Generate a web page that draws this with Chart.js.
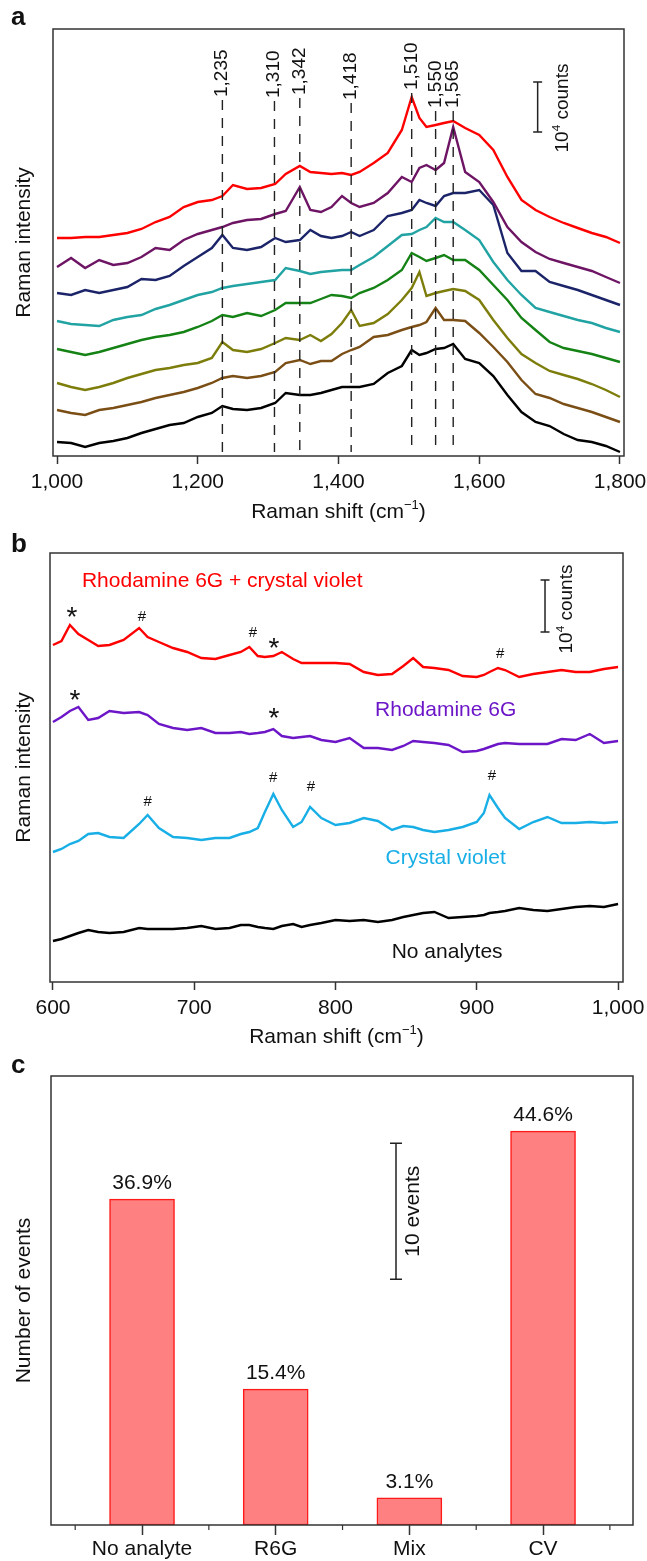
<!DOCTYPE html>
<html>
<head>
<meta charset="utf-8">
<title>Raman spectra</title>
<script src="https://cdn.jsdelivr.net/npm/chart.js@4.4.0/dist/chart.umd.min.js"></script>
<style>
  html, body { margin: 0; padding: 0; background: #fff; }
  .panel { position: absolute; left: 0; width: 647px; }
</style>
</head>
<body>
<div class="panel" style="top:0px;height:530px"><canvas id="chartA"></canvas></div>
<div class="panel" style="top:530px;height:525px"><canvas id="chartB"></canvas></div>
<div class="panel" style="top:1040px;height:521px"><canvas id="chartC"></canvas></div>
<script>
// ---- panel a : spectra (arbitrary intensity, offset traces) ----
var shiftA = [1000,1020,1040,1060,1080,1100,1120,1140,1160,1180,1200,1220,
  1235,1250,1270,1290,1310,1325,1345,1360,1375,1390,1405,1418,1430,
  1450,1470,1490,1504,1515,1525,1538,1550,1563,
  1580,1600,1620,1640,1660,1680,1700,1720,1740,1760,1780,1800];
var aRed = [218,218,219,219,221,223,227,234,239,249,254,256, 260,271,267,268,272,282, 290,284,283,282,283,281,284, 293,303,326,359,338,329,331,333,335, 328,321,306,279,256,246,239,233,228,223,219,213];
var aPurple = [189,198,188,196,191,193,199,208,206,216,222,226, 229,233,236,237,242,245, 269,246,244,249,260,253,249, 253,263,279,274,288,291,286,293,329, 284,274,254,229,214,204,197,193,189,185,179,173];
var aNavy = [163,161,166,163,166,169,177,176,180,190,199,208, 221,208,206,209,218,214, 216,226,220,218,220,224,220, 226,240,243,246,256,253,250,260,263, 263,266,251,203,185,185,174,170,166,161,156,151];
var aTeal = [135,132,131,130,136,139,141,147,151,156,161,164, 168,170,172,174,176,188, 185,182,184,185,186,186,191, 199,210,221,222,226,229,238,234,234, 226,216,194,176,161,148,144,140,136,133,128,124];
var aGreen = [107,104,101,104,108,112,116,119,121,124,129,135, 141,139,143,140,146,153, 153,153,157,161,160,158,163, 168,176,186,203,199,195,198,201,196, 196,186,171,156,138,126,114,108,105,102,98,94];
var aOlive = [73,69,66,69,73,78,82,86,88,91,93,98, 114,106,104,107,113,118, 116,121,115,122,133,146,130, 133,142,156,168,184,160,163,165,167, 165,156,136,118,102,93,85,81,77,72,66,59];
var aBrown = [46,43,41,46,48,51,54,58,61,64,68,73, 78,80,78,80,84,93, 96,92,95,95,102,106,109, 119,121,126,129,131,134,148,136,136, 135,123,109,94,76,62,58,52,48,44,39,34];
var aBlack = [14,13,9,13,15,18,23,27,31,33,39,43, 50,47,46,48,53,63, 61,61,63,66,69,69,69, 72,83,90,106,101,103,107,108,112, 97,93,80,61,44,34,30,22,16,14,10,4];
var ticksA = [1000,1200,1400,1600,1800];
var peakPosA = [1235,1309,1345,1418,1504,1538,1563];
var peakTextA = ['1,235','1,310','1,342','1,418','1,510','1,550','1,565'];

// ---- panel b : analyte spectra ----
var shiftB = [600,606,612,618,625,632,640,650,661,667,
  675,685,695,705,715,725,733,739,745,
  750,756,762,770,776,782,790,
  800,810,820,830,840,848,855,862,870,880,890,900,
  905,909,915,920, 930,940,950,960,970,980,990,1000];
var bMix = [337,341,357,348,342,336,337,342,354,345, 340,334,330,324,323,327,330,335,326, 325,326,330,323,319,319,319, 319,318,310,307,308,316,324,315,314,312,306,305, 307,310,314,312, 305,308,310,312,310,310,313,315];
var bR6G = [260,265,271,275,262,264,271,269,270,267, 258,254,252,254,249,249,250,248,249, 250,253,246,244,245,246,242, 240,244,234,234,232,236,241,240,239,237,230,231, 233,235,238,239, 238,238,238,243,242,248,239,241];
var bCV = [130,133,138,141,148,149,145,144,158,167, 154,145,144,142,144,144,148,150,154, 170,188,172,155,160,175,164, 157,159,164,161,152,156,155,152,150,152,155,160, 169,187,174,164, 153,160,165,159,159,160,159,160];
var bBlank = [41,43,46,49,52,50,49,50,54,53, 53,53,54,56,53,54,57,57,55, 54,53,56,58,55,57,59, 62,61,62,60,62,65,67,69,70,64,65,66, 67,69,70,71, 74,72,71,73,75,76,75,78];
var ticksB = [600,700,800,900,1000];

// ---- panel c : event counts ----
var catsC = ['No analyte','R6G','Mix','CV'];
var countsC = [24,10,2,29];
var pctC = ['36.9%','15.4%','3.1%','44.6%'];

var FONT = "'Liberation Sans', Arial, Helvetica, sans-serif";
Chart.defaults.font.family = FONT;
Chart.defaults.font.size = 21;
Chart.defaults.color = '#111';

// text centred on its ink at (x, yc)
function textAt(ctx, t, x, yc, size, color, align, weight) {
  ctx.font = (weight || 'normal') + ' ' + size + 'px ' + FONT;
  ctx.fillStyle = color || '#111';
  ctx.textAlign = align || 'center';
  ctx.textBaseline = 'alphabetic';
  var m = ctx.measureText(t);
  ctx.fillText(t, x, yc + (m.actualBoundingBoxAscent - m.actualBoundingBoxDescent) / 2);
}

// text made of normal / superscript pieces, centred on x
function drawParts(ctx, parts, x, yc, size, color) {
  var w = 0;
  ctx.fillStyle = color || '#111';
  ctx.textAlign = 'left';
  ctx.textBaseline = 'alphabetic';
  parts.forEach(function(p) {
    ctx.font = (p[1] ? size * 0.62 : size) + 'px ' + FONT;
    w += ctx.measureText(p[0]).width;
  });
  var cx = x - w / 2, base = yc + size * 0.36;
  parts.forEach(function(p) {
    ctx.font = (p[1] ? size * 0.62 : size) + 'px ' + FONT;
    ctx.fillText(p[0], cx, p[1] ? base - size * 0.42 : base);
    cx += ctx.measureText(p[0]).width;
  });
}

function scaleBar(ctx, px, y0, y1, cap) {
  ctx.strokeStyle = '#222';
  ctx.lineWidth = 1.5;
  ctx.setLineDash([]);
  ctx.beginPath();
  ctx.moveTo(px, y0); ctx.lineTo(px, y1);
  ctx.moveTo(px - cap, y0); ctx.lineTo(px + cap, y0);
  ctx.moveTo(px - cap, y1); ctx.lineTo(px + cap, y1);
  ctx.stroke();
}

function rotatedParts(ctx, parts, x, yc, size) {
  ctx.save();
  ctx.translate(x, yc);
  ctx.rotate(-Math.PI / 2);
  drawParts(ctx, parts, 0, 0, size);
  ctx.restore();
}

// frame round the plot area + panel letter
function framePlugin(letter, baseline) {
  return {
    id: 'frame' + letter,
    afterDraw: function(chart) {
      var a = chart.chartArea, ctx = chart.ctx;
      ctx.save();
      ctx.strokeStyle = '#333';
      ctx.lineWidth = 1.5;
      ctx.strokeRect(a.left, a.top, a.right - a.left, a.bottom - a.top);
      ctx.font = 'bold 26px ' + FONT;
      ctx.fillStyle = '#111';
      ctx.textAlign = 'left';
      ctx.textBaseline = 'alphabetic';
      ctx.fillText(letter, 11, baseline);
      ctx.restore();
    }
  };
}

function fixedX(height, ticks) {
  return {
    afterBuildTicks: function(s) { s.ticks = ticks.map(function(v) { return {value: v}; }); },
    afterFit: function(s) { s.height = height; s.paddingLeft = 0; s.paddingRight = 0; }
  };
}

var annotA = {
  id: 'annotA',
  afterDatasetsDraw: function(chart) {
    var ctx = chart.ctx, x = chart.scales.x, y = chart.scales.y;
    var labelEnd = [359,358,361,356,366,348,348];
    ctx.save();
    peakPosA.forEach(function(p, i) {
      var px = x.getPixelForValue(p);
      var top = y.getPixelForValue(labelEnd[i]);
      ctx.strokeStyle = '#222';
      ctx.lineWidth = 1.4;
      ctx.setLineDash([10, 8]);
      ctx.beginPath();
      ctx.moveTo(px, top + 3);
      ctx.lineTo(px, y.getPixelForValue(4));
      ctx.stroke();
      ctx.save();
      ctx.translate(px, top);
      ctx.rotate(-Math.PI / 2);
      textAt(ctx, peakTextA[i], 0, 0, 19, '#111', 'left');
      ctx.restore();
    });
    // 10^4 counts bar
    scaleBar(ctx, x.getPixelForValue(1683), y.getPixelForValue(324), y.getPixelForValue(374), 4.5);
    rotatedParts(ctx, [['10', false], ['4', true], [' counts', false]], x.getPixelForValue(1717), y.getPixelForValue(348), 19);
    drawParts(ctx, [['Raman shift (cm', false], ['\u22121', true], [')', false]], (chart.chartArea.left + chart.chartArea.right) / 2, 510, 21);
    ctx.restore();
  }
};

var annotB = {
  id: 'annotB',
  afterDatasetsDraw: function(chart) {
    var ctx = chart.ctx, x = chart.scales.x, y = chart.scales.y;
    var marks = [['*', 613.5, 370], ['#', 663, 366], ['#', 741.6, 350], ['*', 756.5, 339], ['#', 916.5, 329],
      ['*', 615.6, 287], ['*', 756.5, 269],
      ['#', 667, 181], ['#', 755.8, 205], ['#', 782.6, 196], ['#', 910.8, 207]];
    var names = [['Rhodamine 6G + crystal violet', 620.5, 401, '#ff0000', 'left'],
      ['Rhodamine 6G', 878, 274, '#6c16c8', 'center'],
      ['Crystal violet', 878, 124, '#18aee6', 'center'],
      ['No analytes', 879, 30, '#111', 'center']];
    ctx.save();
    marks.forEach(function(m) {
      textAt(ctx, m[0], x.getPixelForValue(m[1]), y.getPixelForValue(m[2]), m[0] == '*' ? 28 : 15, '#111');
    });
    names.forEach(function(n) {
      textAt(ctx, n[0], x.getPixelForValue(n[1]), y.getPixelForValue(n[2]), 21, n[3], n[4]);
    });
    scaleBar(ctx, x.getPixelForValue(948.3), y.getPixelForValue(350), y.getPixelForValue(402), 4.5);
    rotatedParts(ctx, [['10', false], ['4', true], [' counts', false]], x.getPixelForValue(962.5), y.getPixelForValue(373), 19);
    drawParts(ctx, [['Raman shift (cm', false], ['\u22121', true], [')', false]], (chart.chartArea.left + chart.chartArea.right) / 2, 505, 21);
    ctx.restore();
  }
};

var annotC = {
  id: 'annotC',
  afterDatasetsDraw: function(chart) {
    var ctx = chart.ctx, x = chart.scales.x, y = chart.scales.y;
    ctx.save();
    countsC.forEach(function(c, i) {
      textAt(ctx, pctC[i], x.getPixelForValue(i + 1), y.getPixelForValue(c) - 17, 21, '#111');
    });
    // minor ticks between categories
    ctx.strokeStyle = '#333';
    ctx.lineWidth = 1.2;
    ctx.beginPath();
    [0.5, 1.5, 2.5, 3.5, 4.5].forEach(function(v) {
      var px = x.getPixelForValue(v);
      ctx.moveTo(px, chart.chartArea.bottom);
      ctx.lineTo(px, chart.chartArea.bottom + 5);
    });
    ctx.stroke();
    scaleBar(ctx, x.getPixelForValue(2.9), y.getPixelForValue(18.1), y.getPixelForValue(28.1), 6);
    ctx.save();
    ctx.translate(x.getPixelForValue(3.02), y.getPixelForValue(23.1));
    ctx.rotate(-Math.PI / 2);
    textAt(ctx, '10 events', 0, 0, 21, '#111');
    ctx.restore();
    ctx.restore();
  }
};

var tickGrid = function(len) {
  return { display: true, drawOnChartArea: false, drawTicks: true, tickLength: len, tickColor: '#333', tickWidth: 1.5, offset: false };
};
var yTitle = function(t) {
  return { display: true, text: t, font: { size: 21 }, color: '#111', padding: { top: 12, bottom: 0 } };
};
var common = {
  responsive: true, maintainAspectRatio: false, animation: false, events: [],
  plugins: { legend: { display: false }, tooltip: { enabled: false } }
};

// panel a
var tracesA = [aRed, aPurple, aNavy, aTeal, aGreen, aOlive, aBrown, aBlack];
var colorsA = ['#ff0000', '#6e1464', '#1b2468', '#22a3a3', '#148214', '#7d7d0c', '#7a4e14', '#000000'];
new Chart(document.getElementById('chartA'), {
  type: 'line',
  data: {
    datasets: tracesA.map(function(ys, i) {
      return { data: ys.map(function(v, j) { return { x: shiftA[j], y: v }; }),
        borderColor: colorsA[i], borderWidth: 2.4, pointRadius: 0, tension: 0, fill: false };
    })
  },
  options: Object.assign({}, common, {
    layout: { padding: { top: 29, right: 23, left: 0, bottom: 0 } },
    scales: {
      x: Object.assign({ type: 'linear', min: 994.3, max: 1805.7,
        ticks: { padding: 6, font: { size: 21 }, callback: function(v) { return v.toLocaleString('en-US'); } },
        grid: tickGrid(8), border: { display: false } }, fixedX(74, ticksA)),
      y: { min: 0, max: 427, afterFit: function(s) { s.width = 53; },
        ticks: { display: false }, grid: { display: false }, border: { display: false },
        title: yTitle('Raman intensity') }
    }
  }),
  plugins: [framePlugin('a', 25), annotA]
});

// panel b
var tracesB = [bMix, bR6G, bCV, bBlank];
var colorsB = ['#ff0000', '#6c16c8', '#18aee6', '#000000'];
new Chart(document.getElementById('chartB'), {
  type: 'line',
  data: {
    datasets: tracesB.map(function(ys, i) {
      return { data: ys.map(function(v, j) { return { x: shiftB[j], y: v }; }),
        borderColor: colorsB[i], borderWidth: 2.4, pointRadius: 0, tension: 0, fill: false };
    })
  },
  options: Object.assign({}, common, {
    layout: { padding: { top: 23, right: 24, left: 0, bottom: 0 } },
    scales: {
      x: Object.assign({ type: 'linear', min: 597.9, max: 1003.5,
        ticks: { padding: 6, font: { size: 21 }, callback: function(v) { return v.toLocaleString('en-US'); } },
        grid: tickGrid(8), border: { display: false } }, fixedX(73, ticksB)),
      y: { min: 0, max: 429, afterFit: function(s) { s.width = 50; },
        ticks: { display: false }, grid: { display: false }, border: { display: false },
        title: yTitle('Raman intensity') }
    }
  }),
  plugins: [framePlugin('b', 22), annotB]
});

// panel c
new Chart(document.getElementById('chartC'), {
  type: 'bar',
  data: {
    datasets: [{
      data: countsC.map(function(v, i) { return { x: i + 1, y: v }; }),
      backgroundColor: '#ff8080', borderColor: '#ff1a1a', borderWidth: 1.5,
      borderSkipped: false, barThickness: 65
    }]
  },
  options: Object.assign({}, common, {
    layout: { padding: { top: 36, right: 14, left: 0, bottom: 0 } },
    scales: {
      x: Object.assign({ type: 'linear', min: 0.319, max: 4.673, offset: false,
        ticks: { padding: 2, font: { size: 21 }, callback: function(v) { return catsC[Math.round(v) - 1]; } },
        grid: tickGrid(10), border: { display: false } }, fixedX(36, [1, 2, 3, 4])),
      y: { min: 0, max: 33.06, afterFit: function(s) { s.width = 51; },
        ticks: { display: false }, grid: { display: false }, border: { display: false },
        title: yTitle('Number of events') }
    }
  }),
  plugins: [framePlugin('c', 33), annotC]
});
</script>
</body>
</html>
